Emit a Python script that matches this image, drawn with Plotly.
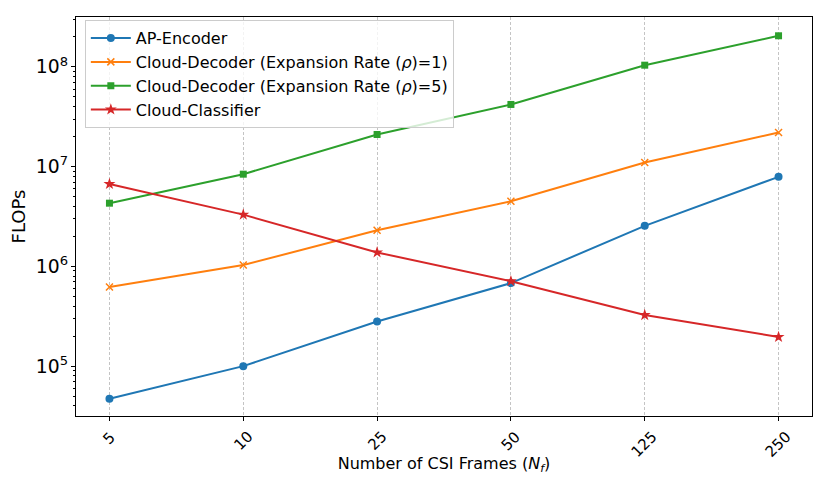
import plotly.graph_objects as go

frames = ["5", "10", "25", "50", "125", "250"]
ap_encoder = [4.7e4, 1.0e5, 2.8e5, 6.8e5, 2.55e6, 7.9e6]
decoder_rho1 = [6.2e5, 1.03e6, 2.3e6, 4.5e6, 1.1e7, 2.2e7]
decoder_rho5 = [4.3e6, 8.4e6, 2.1e7, 4.2e7, 1.04e8, 2.05e8]
classifier = [6.7e6, 3.3e6, 1.38e6, 7.1e5, 3.25e5, 1.96e5]

series = [
    ("AP-Encoder", ap_encoder, "#1f77b4", "circle", 8),
    ("Cloud-Decoder (Expansion Rate (<i>ρ</i>)=1)", decoder_rho1, "#ff7f0e", "x-thin", 7),
    ("Cloud-Decoder (Expansion Rate (<i>ρ</i>)=5)", decoder_rho5, "#2ca02c", "square", 7),
    ("Cloud-Classifier", classifier, "#d62728", "star", 9),
]

xpos = list(range(len(frames)))

fig = go.Figure()
for name, vals, color, sym, size in series:
    fig.add_trace(go.Scatter(
        x=xpos, y=vals, name=name, mode="lines+markers",
        line=dict(color=color, width=2),
        marker=dict(symbol=sym, size=size, color=color,
                    line=dict(color=color, width=1.5 if sym == "x-thin" else 0)),
    ))

# rotated, centred tick labels (matplotlib style)
for xi, lab in zip(xpos, frames):
    fig.add_annotation(x=xi, xref="x", y=0, yref="paper", text=lab, showarrow=False,
                       textangle=-45, xanchor="center", yanchor="top", yshift=-9,
                       font=dict(size=15, color="black"))

font = "DejaVu Sans, sans-serif"
fig.update_layout(
    width=830, height=498,
    margin=dict(l=68, r=26, t=9, b=90),
    paper_bgcolor="white", plot_bgcolor="white",
    font=dict(family=font, size=14, color="black"),
    showlegend=True,
    legend=dict(x=0.012, y=0.992, xanchor="left", yanchor="top",
                bgcolor="rgba(255,255,255,0.8)", bordercolor="#cccccc", borderwidth=1,
                font=dict(size=16), tracegroupgap=0, itemwidth=40),
    xaxis=dict(
        tickmode="array", tickvals=xpos, ticktext=frames, showticklabels=False,
        range=[-0.25, 5.25], automargin=False,
        showgrid=True, gridcolor="#c4c4c4", griddash="3px,2px", gridwidth=1,
        showline=True, linecolor="black", linewidth=1, mirror=True,
        ticks="outside", ticklen=4, tickcolor="black",
        title=dict(text="Number of CSI Frames (<i>N<sub>f</sub></i>)", font=dict(size=16), standoff=37),
        zeroline=False,
    ),
    yaxis=dict(
        type="log", range=[4.5, 8.5], dtick=1, exponentformat="power", automargin=False,
        showgrid=False,
        showline=True, linecolor="black", linewidth=1, mirror=True,
        ticks="outside", ticklen=4, tickcolor="black",
        minor=dict(ticks="outside", ticklen=2.5, tickcolor="black", showgrid=False),
        tickfont=dict(size=15),
        title=dict(text="FLOPs", font=dict(size=18), standoff=10),
        zeroline=False,
    ),
)

fig.write_html("out.html")
